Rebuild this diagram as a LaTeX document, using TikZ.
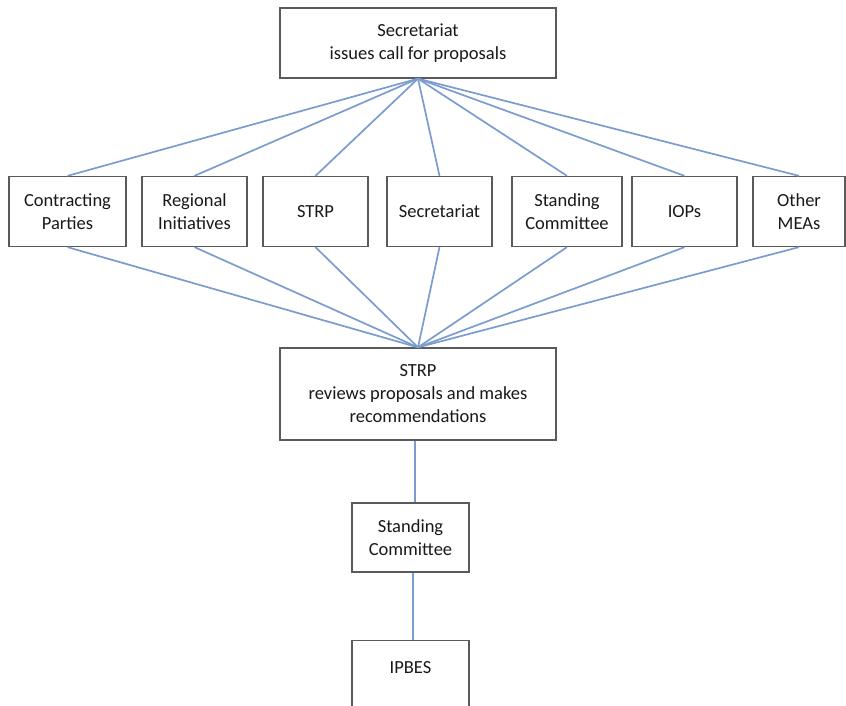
\documentclass[tikz,border=0pt]{standalone}
\usepackage{fontspec}
\setmainfont{Carlito}
\usepackage{xcolor}
\usepackage{tikz}
\definecolor{edge}{HTML}{5A5A5A}
\definecolor{steel}{HTML}{7A9CCF}
\tikzset{
  unit/.style={rectangle,draw=edge,line width=1.3pt,fill=white,inner sep=0pt,
    align=center,font=\fontsize{18.5}{23}\selectfont,text=black!90},
  link/.style={draw=steel,line width=1.7pt}
}
\begin{document}
\begin{tikzpicture}[x=1pt,y=-1pt]
\useasboundingbox (0,0) rectangle (846,706);
\clip (0,0) rectangle (846,706);
\node[unit,minimum width=276pt,minimum height=70pt] (call) at (418,43) {Secretariat\\issues call for proposals};
\node[unit,minimum width=117pt,minimum height=70pt] (cp) at (67.5,211.5) {Contracting\\Parties};
\node[unit,minimum width=105pt,minimum height=70pt] (ri) at (194.5,211.5) {Regional\\Initiatives};
\node[unit,minimum width=105pt,minimum height=70pt] (strp) at (315.5,211.5) {STRP};
\node[unit,minimum width=105pt,minimum height=70pt] (sec) at (439.5,211.5) {Secretariat};
\node[unit,minimum width=110pt,minimum height=70pt] (stc) at (567,211.5) {Standing\\Committee};
\node[unit,minimum width=105pt,minimum height=70pt] (iop) at (684.5,211.5) {IOPs};
\node[unit,minimum width=92pt,minimum height=70pt] (mea) at (799,211.5) {Other\\MEAs};
\node[unit,minimum width=276pt,minimum height=92pt] (review) at (418,394) {STRP\\reviews proposals and makes\\recommendations};
\node[unit,minimum width=117pt,minimum height=69pt] (sc) at (410.5,537.5) {Standing\\Committee};
\node[unit,minimum width=117pt,inner ysep=21pt,text depth=60pt,anchor=north] (ipbes) at (410.5,640) {IPBES};
\begin{scope}[on background layer/.try]
\draw[link] (call.south)--(cp.north); \draw[link] (call.south)--(ri.north); \draw[link] (call.south)--(strp.north);
\draw[link] (call.south)--(sec.north); \draw[link] (call.south)--(stc.north); \draw[link] (call.south)--(iop.north);
\draw[link] (call.south)--(mea.north);
\draw[link] (cp.south)--(review.north); \draw[link] (ri.south)--(review.north); \draw[link] (strp.south)--(review.north);
\draw[link] (sec.south)--(review.north); \draw[link] (stc.south)--(review.north); \draw[link] (iop.south)--(review.north);
\draw[link] (mea.south)--(review.north);
\draw[link] ([xshift=-3pt]review.south)--([xshift=-3pt]review.south |- sc.north);
\draw[link] ([xshift=2.5pt]sc.south)--([xshift=2.5pt]sc.south |- ipbes.north);
\end{scope}
\end{tikzpicture}
\end{document}
